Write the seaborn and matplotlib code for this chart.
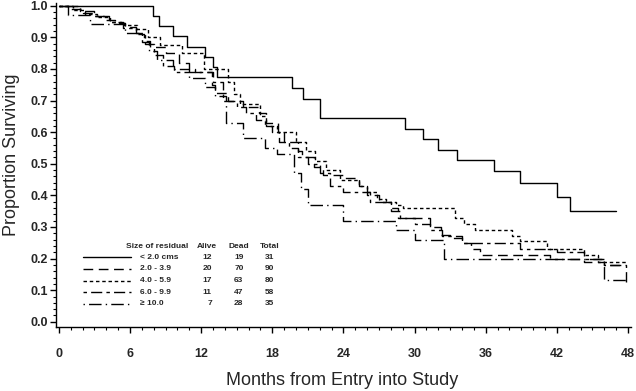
import numpy as np
import pandas as pd
import seaborn as sns
import matplotlib.pyplot as plt
from matplotlib.ticker import MultipleLocator

# survival curves (months, proportion surviving)
groups = ['< 2.0 cms', '2.0 - 3.9', '4.0 - 5.9', '6.0 - 9.9', '\u2265 10.0']
alive = [12, 20, 17, 11, 7]
dead = [19, 70, 63, 47, 28]
total = [31, 90, 80, 58, 35]

t1 = [0, 7.9, 8.4, 9.6, 10.8, 12.3, 13.0, 13.3, 19.7, 20.6, 22.0, 29.2, 30.7,
      32.0, 33.6, 36.7, 38.9, 42.0, 43.1]
s1 = [1.0, 0.968, 0.935, 0.903, 0.871, 0.839, 0.806, 0.774, 0.740, 0.706, 0.645,
      0.61, 0.578, 0.545, 0.513, 0.478, 0.44, 0.396, 0.35]

t2 = [0, 1.0, 2.0, 3.0, 3.8, 4.7, 5.6, 6.5, 7.2, 7.7, 9.0, 10.1, 11.0, 11.5, 12.9,
      13.2, 14.3, 15.5, 16.9, 17.5, 18.5, 19.0, 20.2, 20.5, 21.5, 22.3, 24.0, 25.3,
      26.0, 27.0, 28.0, 28.6, 31.3, 32.2, 33.0, 34.0, 34.8, 35.5, 41.4, 44.3, 46.0]
s2 = [1.0, 0.989, 0.978, 0.967, 0.956, 0.944, 0.933, 0.911, 0.889, 0.87, 0.85, 0.82,
      0.80, 0.79, 0.75, 0.725, 0.70, 0.68, 0.66, 0.63, 0.60, 0.57, 0.54, 0.52, 0.49,
      0.465, 0.455, 0.43, 0.40, 0.38, 0.36, 0.33, 0.30, 0.275, 0.265, 0.25, 0.23,
      0.21, 0.20, 0.19, 0.18]

t3 = [0, 1.2, 2.2, 3.2, 4.3, 5.5, 6.6, 7.5, 8.5, 10.4, 12.2, 14.3, 14.8, 15.3, 17.0,
      17.5, 18.4, 20.0, 20.8, 21.6, 22.5, 23.7, 25.3, 26.0, 26.8, 27.6, 28.4, 29.0,
      33.4, 34.2, 35.1, 38.2, 38.9, 41.2, 44.3, 45.5]
s3 = [1.0, 0.988, 0.975, 0.963, 0.95, 0.938, 0.925, 0.90, 0.876, 0.85, 0.80, 0.76,
      0.72, 0.69, 0.65, 0.62, 0.60, 0.57, 0.54, 0.51, 0.48, 0.45, 0.43, 0.41, 0.39,
      0.38, 0.37, 0.36, 0.33, 0.31, 0.29, 0.27, 0.255, 0.23, 0.21, 0.19]

t4 = [0, 1.8, 3.0, 4.2, 5.4, 6.5, 7.3, 8.0, 8.8, 9.7, 13.0, 13.8, 15.0, 15.8, 16.6,
      17.4, 18.0, 18.6, 19.4, 20.2, 21.0, 22.0, 22.9, 24.0, 26.2, 28.0, 28.8, 30.0,
      31.3, 32.3, 34.0, 38.9, 42.0, 44.3, 46.0, 47.8]
s4 = [1.0, 0.983, 0.966, 0.948, 0.931, 0.914, 0.879, 0.845, 0.81, 0.79, 0.76, 0.70,
      0.68, 0.66, 0.64, 0.62, 0.60, 0.57, 0.55, 0.52, 0.50, 0.47, 0.43, 0.41, 0.38,
      0.35, 0.33, 0.31, 0.29, 0.27, 0.25, 0.23, 0.22, 0.20, 0.18, 0.125]

t5 = [0, 0.8, 2.6, 5.6, 7.0, 7.6, 8.3, 9.6, 11.0, 12.3, 13.2, 14.1, 15.5, 17.4, 18.4,
      19.8, 20.4, 21.0, 24.0, 28.4, 30.0, 32.5, 46.0]
s5 = [1.0, 0.971, 0.943, 0.914, 0.886, 0.857, 0.829, 0.80, 0.771, 0.743, 0.714,
      0.629, 0.58, 0.55, 0.53, 0.47, 0.42, 0.37, 0.32, 0.29, 0.26, 0.20, 0.133]

end_times = [47.0, 47.5, 47.8, 47.8, 47.8]

times = [t1, t2, t3, t4, t5]
survs = [s1, s2, s3, s4, s5]
styles = ['-', (0, (7, 4)), (0, (2.5, 2)), (0, (2.5, 3, 8, 3)), (0, (1, 3, 9, 3))]

sns.set_theme(style='ticks')
plt.rcParams['font.family'] = ['Liberation Sans', 'DejaVu Sans']

fig = plt.figure(figsize=(6.36, 3.91), dpi=100)
ax = fig.add_axes([0.088, 0.164, 0.904, 0.829])

for t, s, end, ls in zip(times, survs, end_times, styles):
    df = pd.DataFrame({'month': t + [end], 'surv': s + [s[-1]]})
    sns.lineplot(data=df, x='month', y='surv', ax=ax, color='black', lw=1.0,
                 drawstyle='steps-post', estimator=None, sort=False, linestyle=ls)

ax.set_xlim(-0.25, 48.25)
ax.set_ylim(-0.016, 1.0095)
ax.set_xticks(np.arange(0, 49, 6))
ax.xaxis.set_minor_locator(MultipleLocator(1))
ax.set_yticks(np.arange(0, 1.01, 0.1))
ax.set_yticklabels([f'{v:.1f}' for v in np.arange(0, 1.01, 0.1)])
ax.yaxis.set_minor_locator(MultipleLocator(0.02))
ax.tick_params(axis='both', which='major', direction='out', length=4, width=1,
               color='black', labelsize=9)
ax.tick_params(axis='both', which='minor', direction='out', length=2.5, width=0.8,
               color='black')
ax.tick_params(axis='x', which='major', pad=11)
ax.tick_params(axis='y', which='major', pad=2)
for lab in ax.get_xticklabels() + ax.get_yticklabels():
    lab.set_fontweight('bold')

sns.despine(ax=ax)
for sp in ['left', 'bottom']:
    ax.spines[sp].set_color('black')
    ax.spines[sp].set_linewidth(1.0)

ax.set_xlabel('Months from Entry into Study', fontsize=13)
ax.set_ylabel('Proportion Surviving', fontsize=13)
ax.xaxis.set_label_coords(0.497, -0.14)
ax.yaxis.set_label_coords(-0.063, 0.53)

# table-style legend
tr = ax.transAxes
hdr_y = 0.249
ax.text(0.122, hdr_y, 'Size of residual', transform=tr, fontsize=6, fontweight='bold',
        va='center')
for xc, name in zip([0.263, 0.318, 0.372], ['Alive', 'Dead', 'Total']):
    ax.text(xc, hdr_y, name, transform=tr, fontsize=6, fontweight='bold',
            ha='center', va='center')
for i, (g, ls) in enumerate(zip(groups, styles)):
    y = 0.215 - i * 0.036
    ax.plot([0.047, 0.130], [y, y], transform=tr, color='black', lw=1.0, linestyle=ls)
    ax.text(0.146, y, g, transform=tr, fontsize=6, fontweight='bold', va='center')
    ax.text(0.271, y, str(alive[i]), transform=tr, fontsize=6, fontweight='bold',
            ha='right', va='center')
    ax.text(0.318, y, str(dead[i]), transform=tr, fontsize=6, fontweight='bold',
            ha='center', va='center')
    ax.text(0.372, y, str(total[i]), transform=tr, fontsize=6, fontweight='bold',
            ha='center', va='center')

fig.savefig('out.png', dpi=100)
